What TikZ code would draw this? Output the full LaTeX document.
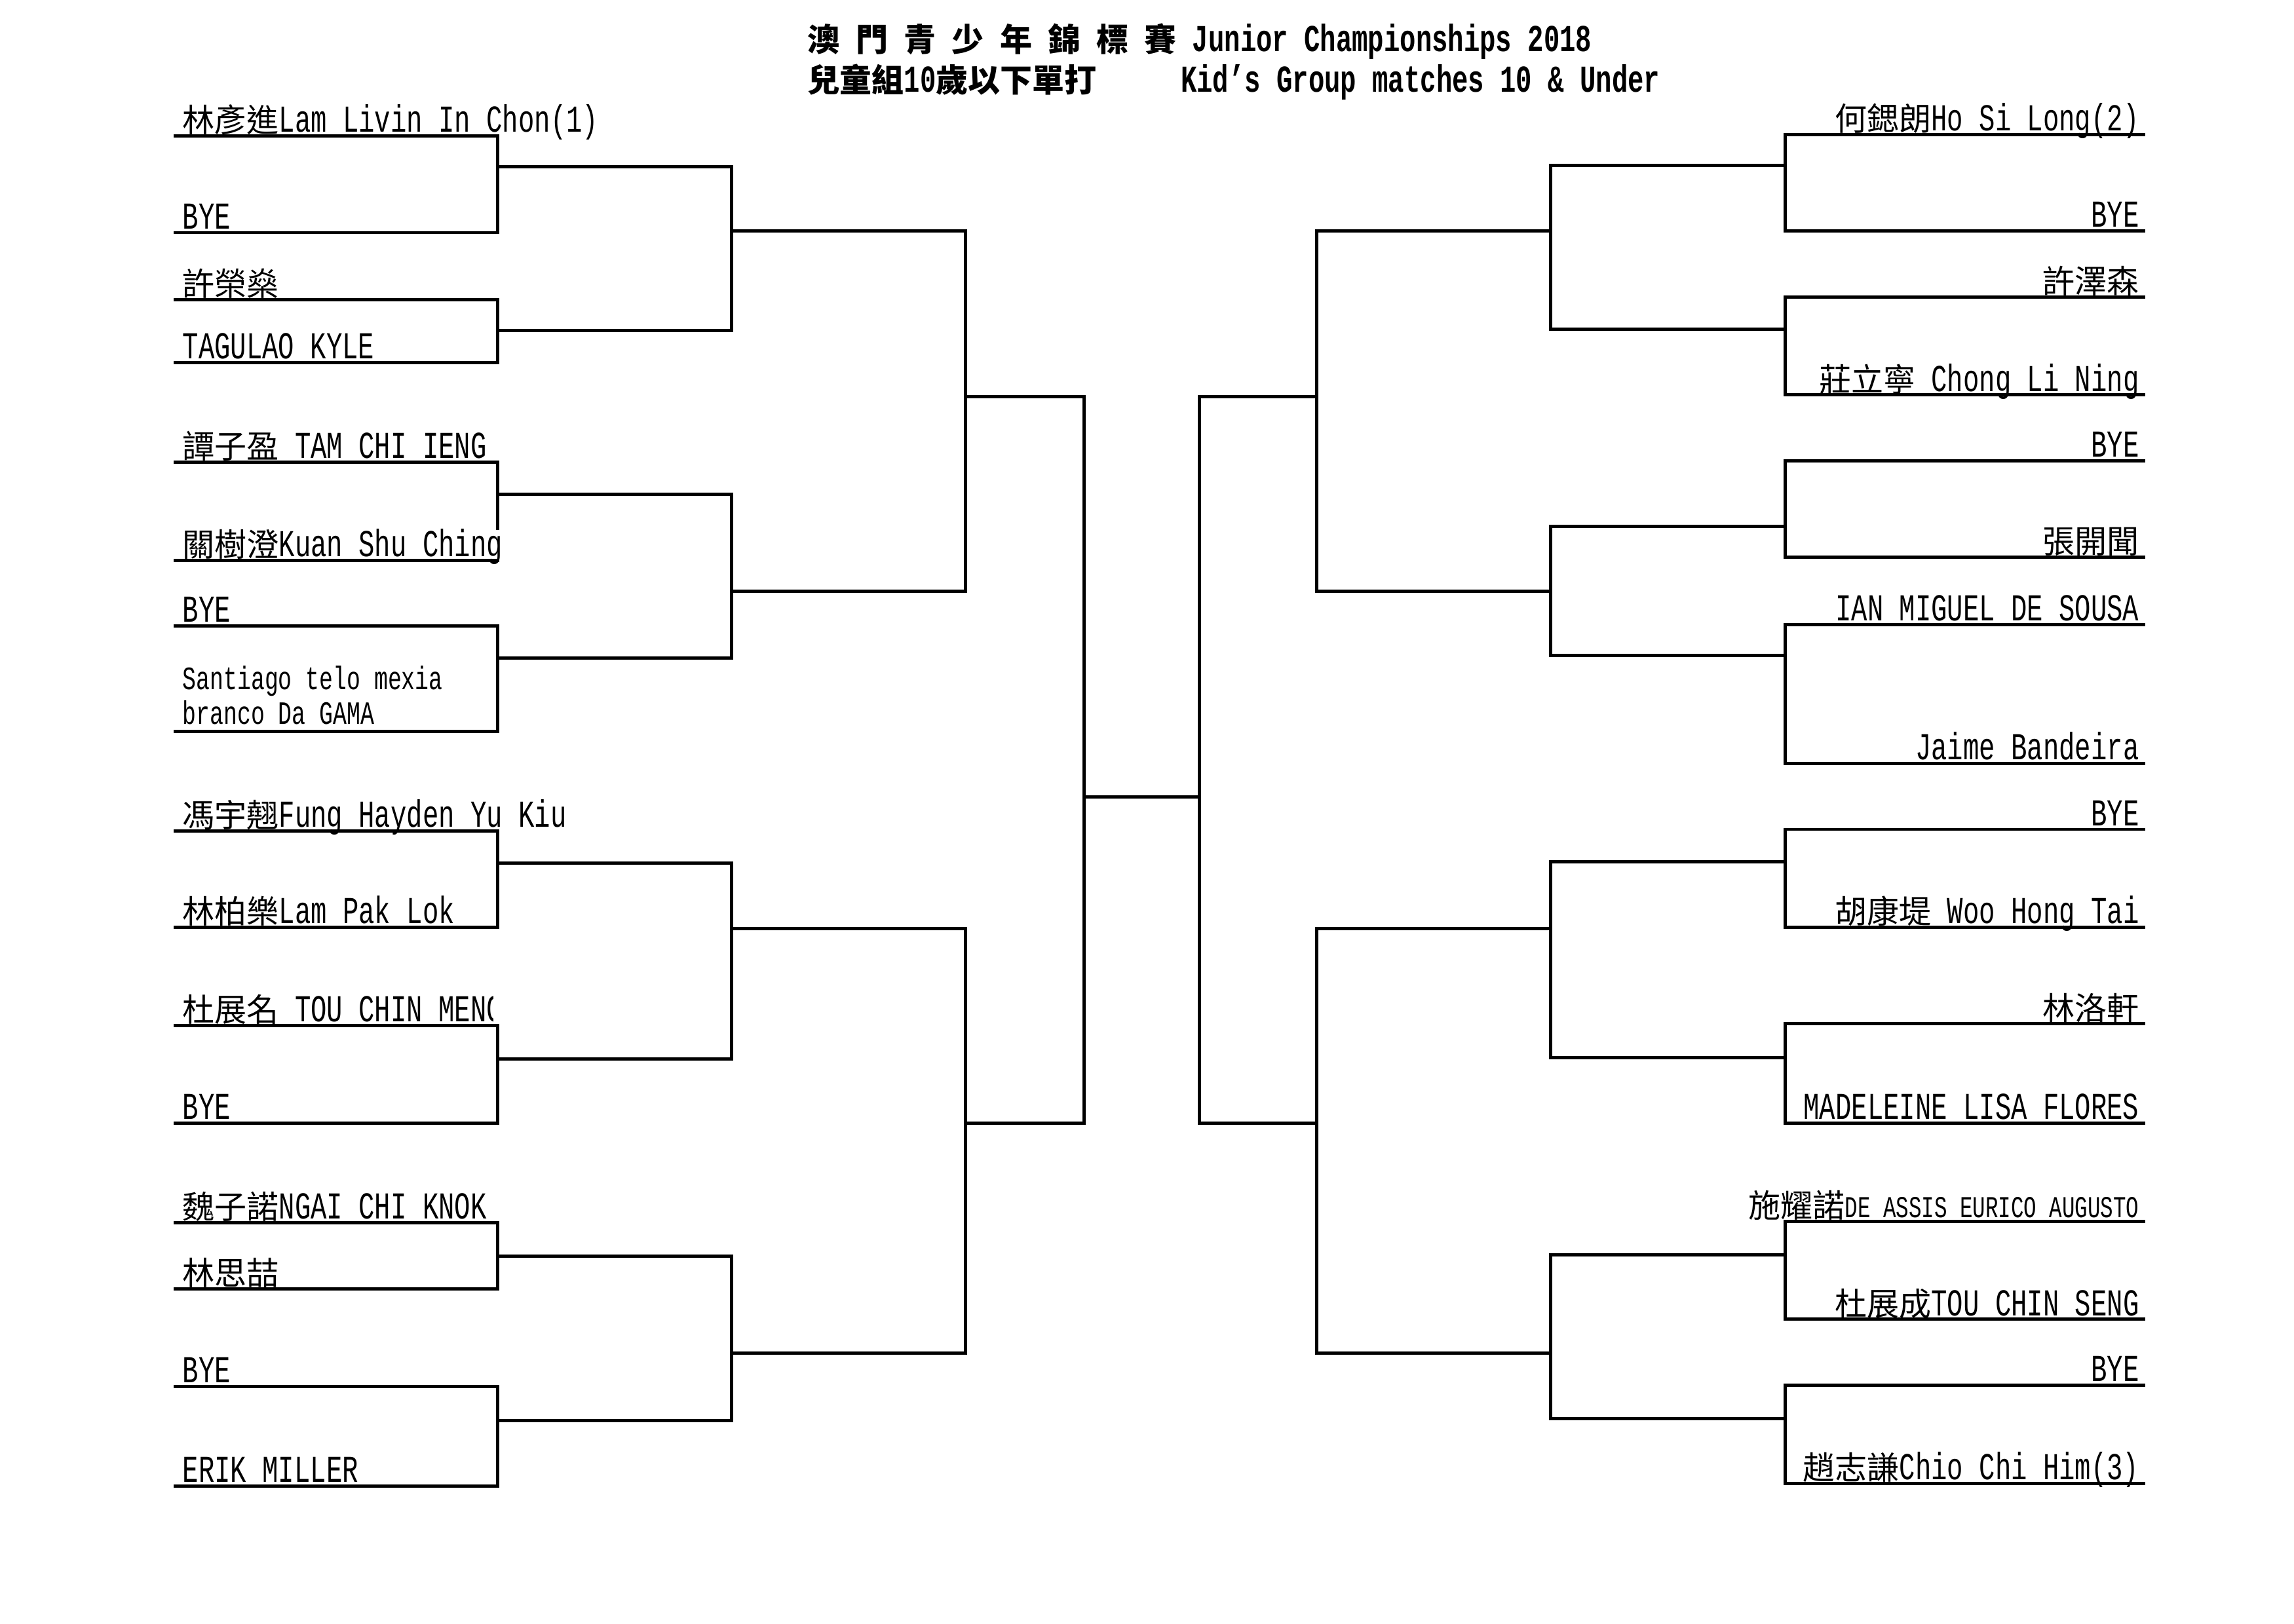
\documentclass[tikz,border=0pt]{standalone}
\usepackage{fontspec}
\newfontfamily\lat[FakeStretch=0.70]{Liberation Mono}
\newfontfamily\cjk[Scale=0.845]{Noto Sans CJK TC}
\usetikzlibrary{calc}

\begin{document}
\begin{tikzpicture}[x=0.01894cm, y=-0.01894cm, line width=1.2pt, line cap=rect,
    every node/.style={inner sep=0pt, font=\lat\fontsize{14}{16}\selectfont},
    lname/.style={anchor=base west, xshift=2pt, yshift=1.4pt},
    rname/.style={anchor=base east, xshift=-1pt, yshift=1.4pt},
    ttl/.style={anchor=base west, font=\lat\bfseries\fontsize{14}{16}\selectfont}]

    \fill[white] (0,0) rectangle (1568,1110);
    \useasboundingbox (0,0) rectangle (1568,1110);

    % title
    \node[ttl] (title1) at (551,35) {{\cjk 澳} {\cjk 門} {\cjk 青} {\cjk 少} {\cjk 年} {\cjk 錦} {\cjk 標} {\cjk 賽} Junior Championships 2018};
    \node[ttl] (title2) at (551,63) {{\cjk 兒童組}10{\cjk 歲以下單打}};
    \node[ttl] (title3) at (806,63) {Kid’s Group matches 10 \& Under};

    % entry lines, left half
    \foreach \i/\y in {1/93, 2/159, 3/205, 4/248, 5/316, 6/383, 7/428, 8/500,
                       9/568, 10/634, 11/701, 12/768, 13/836, 14/881, 15/948, 16/1016} {
        \coordinate (s\i) at (120,\y);
        \coordinate (e\i) at (340,\y);
        \draw (s\i) -- (e\i);
    }
    % entry lines, right half
    \foreach \i/\y in {1/92, 2/158, 3/203, 4/270, 5/315, 6/381, 7/427, 8/522,
                       9/567, 10/634, 11/700, 12/768, 13/835, 14/902, 15/947, 16/1014} {
        \coordinate (f\i) at (1220,\y);
        \coordinate (t\i) at (1465,\y);
        \draw (f\i) -- (t\i);
    }

    % names, left
    \node[lname] (n1) at (s1) {{\cjk 林彥進}Lam Livin In Chon(1)};
    \node[lname] (n2) at (s2) {BYE};
    \node[lname] (n3) at (s3) {{\cjk 許榮燊}};
    \node[lname] (n4) at (s4) {TAGULAO KYLE};
    \node[lname] (n5) at (s5) {{\cjk 譚子盈} TAM CHI IENG};
    \node[lname] (n6) at (s6) {{\cjk 關樹澄}Kuan Shu Ching};
    \node[lname] (n7) at (s7) {BYE};
    \node[anchor=south west, align=left, xshift=2pt, yshift=1.8pt,
          font=\lat\fontsize{12}{12.9}\selectfont] (n8) at (s8) {Santiago telo mexia\\branco Da GAMA};
    \node[lname] (n9) at (s9) {{\cjk 馮宇翹}Fung Hayden Yu Kiu};
    \node[lname] (n10) at (s10) {{\cjk 林柏樂}Lam Pak Lok};
    \begin{scope}
        \clip (110,660) rectangle (337,712);
        \node[lname] (n11) at (s11) {{\cjk 杜展名} TOU CHIN MENG};
    \end{scope}
    \node[lname] (n12) at (s12) {BYE};
    \node[lname] (n13) at (s13) {{\cjk 魏子諾}NGAI CHI KNOK};
    \node[lname] (n14) at (s14) {{\cjk 林思喆}};
    \node[lname] (n15) at (s15) {BYE};
    \node[lname] (n16) at (s16) {ERIK MILLER};

    % names, right
    \node[rname] (m1) at (t1) {{\cjk 何鍶朗}Ho Si Long(2)};
    \node[rname] (m2) at (t2) {BYE};
    \node[rname] (m3) at (t3) {{\cjk 許澤森}};
    \node[rname] (m4) at (t4) {{\cjk 莊立寧} Chong Li Ning};
    \node[rname] (m5) at (t5) {BYE};
    \node[rname] (m6) at (t6) {{\cjk 張開聞}};
    \node[rname] (m7) at (t7) {IAN MIGUEL DE SOUSA};
    \node[rname] (m8) at (t8) {Jaime Bandeira};
    \node[rname] (m9) at (t9) {BYE};
    \node[rname] (m10) at (t10) {{\cjk 胡康堤} Woo Hong Tai};
    \node[rname] (m11) at (t11) {{\cjk 林洛軒}};
    \node[rname] (m12) at (t12) {MADELEINE LISA FLORES};
    \node[rname] (m13) at (t13) {{\cjk 施耀諾}{\fontsize{11.2}{13}\selectfont DE ASSIS EURICO AUGUSTO}};
    \node[rname] (m14) at (t14) {{\cjk 杜展成}TOU CHIN SENG};
    \node[rname] (m15) at (t15) {BYE};
    \node[rname] (m16) at (t16) {{\cjk 趙志謙}Chio Chi Him(3)};

    % first round, left
    \foreach \k/\a/\b/\y in {1/1/2/114, 2/3/4/226, 4/7/8/450, 5/9/10/590,
                             6/11/12/724, 7/13/14/859, 8/15/16/971} {
        \coordinate (lm1\k) at (500,\y);
        \draw (e\a) -- (e\b);
        \draw (e\a |- lm1\k) -- (lm1\k);
    }
    % this one stops short of the lower line
    \coordinate (lm13) at (500,338);
    \coordinate (gap) at (340,361);
    \draw (e5) -- (gap);
    \draw (e5 |- lm13) -- (lm13);

    % later rounds, left
    \foreach \k/\a/\b/\y in {1/1/2/158, 2/3/4/404, 3/5/6/635, 4/7/8/925} {
        \coordinate (lm2\k) at (660,\y);
        \draw (lm1\a) -- (lm1\b);
        \draw (lm1\a |- lm2\k) -- (lm2\k);
    }
    \foreach \k/\a/\b/\y in {1/1/2/271, 2/3/4/768} {
        \coordinate (lm3\k) at (741,\y);
        \draw (lm2\a) -- (lm2\b);
        \draw (lm2\a |- lm3\k) -- (lm3\k);
    }

    % first round, right
    \foreach \k/\a/\b/\y in {1/1/2/113, 2/3/4/225, 3/5/6/360, 4/7/8/448,
                             5/9/10/589, 6/11/12/723, 7/13/14/858, 8/15/16/970} {
        \coordinate (rm1\k) at (1060,\y);
        \draw (f\a) -- (f\b);
        \draw (f\a |- rm1\k) -- (rm1\k);
    }
    % later rounds, right
    \foreach \k/\a/\b/\y in {1/1/2/158, 2/3/4/404, 3/5/6/635, 4/7/8/925} {
        \coordinate (rm2\k) at (900,\y);
        \draw (rm1\a) -- (rm1\b);
        \draw (rm1\a |- rm2\k) -- (rm2\k);
    }
    \foreach \k/\a/\b/\y in {1/1/2/271, 2/3/4/768} {
        \coordinate (rm3\k) at (820,\y);
        \draw (rm2\a) -- (rm2\b);
        \draw (rm2\a |- rm3\k) -- (rm3\k);
    }

    % final
    \coordinate (finl) at (741,545);
    \coordinate (finr) at (820,545);
    \draw (lm31) -- (lm32);
    \draw (rm31) -- (rm32);
    \draw (finl) -- (finr);
\end{tikzpicture}
\end{document}
